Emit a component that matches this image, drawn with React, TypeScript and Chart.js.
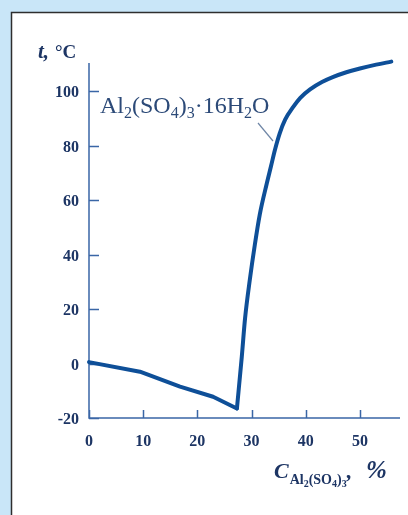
import React, { useEffect, useRef } from "react";
import { Chart, registerables } from "chart.js";

Chart.register(...registerables);

// Concentration of Al2(SO4)3, % (x) and temperature, °C (y)
const iceBranchX = [0, 9.4, 16.8, 22.9, 27.3];
const iceBranchY = [0.5, -3.0, -8.5, -12.2, -16.5];
const saltBranchX = [27.3, 28.2, 28.8, 29.7, 30.6, 31.5, 32.8, 33.6, 34.3, 35.2, 36.2, 37.7, 39.0, 40.8, 43.0, 45.1, 47.5, 50.0, 53.0, 55.8];
const saltBranchY = [-16.5, 2.5, 16.5, 31.0, 43.5, 54.5, 66.0, 72.5, 78.3, 84.5, 89.5, 94.2, 97.5, 100.6, 103.3, 105.2, 106.9, 108.3, 109.7, 110.8];

const xTicks = [0, 10, 20, 30, 40, 50];
const yTicks = [-20, 0, 20, 40, 60, 80, 100];

const CURVE = "#0e4f98";
const AXIS = "#3a66a6";
const TEXT = "#1d3564";
const FONT = "'Liberation Serif', 'DejaVu Serif', serif";

const toPts = (xs: number[], ys: number[]) => xs.map((x, i) => ({ x, y: ys[i] }));

function drawRich(ctx: CanvasRenderingContext2D, parts: [string, boolean][], x: number, y: number, big: string, small: string, subDy: number) {
  let cx = x;
  for (const [t, sub] of parts) {
    ctx.font = sub ? small : big;
    ctx.fillText(t, cx, sub ? y + subDy : y);
    cx += ctx.measureText(t).width;
  }
  return cx;
}

const decor = {
  id: "decor",
  beforeDraw(chart: any) {
    const ctx = chart.ctx as CanvasRenderingContext2D;
    const W = chart.width, H = chart.height;
    ctx.save();
    ctx.fillStyle = "#c9e6f8";
    ctx.fillRect(0, 0, W, H);
    ctx.fillStyle = "#ffffff";
    ctx.fillRect(11, 12, W - 11, H - 12);
    ctx.strokeStyle = "#2e2e2e";
    ctx.lineWidth = 1.5;
    ctx.beginPath();
    ctx.moveTo(11.5, H);
    ctx.lineTo(11.5, 12.5);
    ctx.lineTo(W, 12.5);
    ctx.stroke();
    ctx.restore();
  },
  beforeDatasetsDraw(chart: any) {
    const ctx = chart.ctx as CanvasRenderingContext2D;
    const xs = chart.scales.x, ys = chart.scales.y;
    const a = chart.chartArea;
    ctx.save();
    ctx.strokeStyle = AXIS;
    ctx.lineWidth = 1.5;
    ctx.beginPath();
    ctx.moveTo(a.left, a.top);
    ctx.lineTo(a.left, a.bottom);
    ctx.lineTo(a.right, a.bottom);
    for (const v of yTicks) {
      const p = Math.round(ys.getPixelForValue(v)) + 0.5;
      ctx.moveTo(a.left, p);
      ctx.lineTo(a.left + 10, p);
    }
    for (const v of xTicks) {
      const p = Math.round(xs.getPixelForValue(v)) + 0.5;
      ctx.moveTo(p, a.bottom);
      ctx.lineTo(p, a.bottom - 8);
    }
    ctx.stroke();
    ctx.restore();
  },
  afterDraw(chart: any) {
    const ctx = chart.ctx as CanvasRenderingContext2D;
    ctx.save();
    ctx.textBaseline = "alphabetic";
    ctx.textAlign = "left";
    // y-axis title
    ctx.fillStyle = TEXT;
    ctx.font = `italic bold 21px ${FONT}`;
    ctx.fillText("t,", 38, 58);
    ctx.font = `bold 19px ${FONT}`;
    ctx.fillText("°C", 55, 58);
    // x-axis title
    let cx = 274;
    ctx.font = `italic bold 22px ${FONT}`;
    ctx.fillText("C", cx, 478);
    cx += ctx.measureText("C").width + 1;
    cx = drawRich(ctx, [["Al", false], ["2", true], ["(SO", false], ["4", true], [")", false], ["3", true]], cx, 484, `bold 14px ${FONT}`, `bold 10px ${FONT}`, 3);
    ctx.font = `italic bold 22px ${FONT}`;
    ctx.fillText(",", cx, 478);
    ctx.font = `italic bold 25px ${FONT}`;
    ctx.fillText("%", 366, 478);
    // phase label
    ctx.fillStyle = "#2c4a78";
    drawRich(ctx, [["Al", false], ["2", true], ["(SO", false], ["4", true], [")", false], ["3", true], ["·16H", false], ["2", true], ["O", false]], 100, 113, `24px ${FONT}`, `16px ${FONT}`, 5);
    ctx.strokeStyle = "#6f86a6";
    ctx.lineWidth = 1.2;
    ctx.beginPath();
    ctx.moveTo(258, 123);
    ctx.lineTo(273, 141);
    ctx.stroke();
    ctx.restore();
  },
};

export default function App() {
  const ref = useRef<HTMLCanvasElement>(null);
  useEffect(() => {
    const chart = new Chart(ref.current!, {
      type: "line",
      data: {
        datasets: [
          {
            label: "ice",
            data: toPts(iceBranchX, iceBranchY),
            borderColor: CURVE,
            borderWidth: 4,
            pointRadius: 0,
            tension: 0,
            borderCapStyle: "round",
            borderJoinStyle: "round",
            clip: false,
          },
          {
            label: "Al2(SO4)3·16H2O",
            data: toPts(saltBranchX, saltBranchY),
            borderColor: CURVE,
            borderWidth: 4,
            pointRadius: 0,
            cubicInterpolationMode: "monotone",
            borderCapStyle: "round",
            borderJoinStyle: "round",
            clip: false,
          },
        ],
      },
      options: {
        animation: false,
        responsive: false,
        devicePixelRatio: 1,
        layout: { padding: { left: 0, top: 63, right: 8, bottom: 0 } },
        plugins: { legend: { display: false }, tooltip: { enabled: false } },
        scales: {
          x: {
            type: "linear",
            min: 0,
            max: 57.4,
            grid: { display: false, drawTicks: false },
            border: { display: false },
            afterFit: (s: any) => { s.height = 97; },
            afterBuildTicks: (s: any) => { s.ticks = xTicks.map((v) => ({ value: v })); },
            ticks: { color: TEXT, font: { family: FONT, size: 16, weight: "bold" }, padding: 14, maxRotation: 0, autoSkip: false },
          },
          y: {
            type: "linear",
            min: -20,
            max: 110.3,
            grid: { display: false, drawTicks: false },
            border: { display: false },
            afterFit: (s: any) => { s.width = 89; },
            afterBuildTicks: (s: any) => { s.ticks = yTicks.map((v) => ({ value: v })); },
            ticks: { color: TEXT, font: { family: FONT, size: 16, weight: "bold" }, padding: 10, labelOffset: 2, autoSkip: false },
          },
        },
      },
      plugins: [decor],
    } as any);
    return () => chart.destroy();
  }, []);
  return (
    <div style={{ position: "fixed", left: 0, top: 0, width: 408, height: 515 }}>
      <canvas ref={ref} width={408} height={515} style={{ display: "block", width: 408, height: 515 }} />
    </div>
  );
}
